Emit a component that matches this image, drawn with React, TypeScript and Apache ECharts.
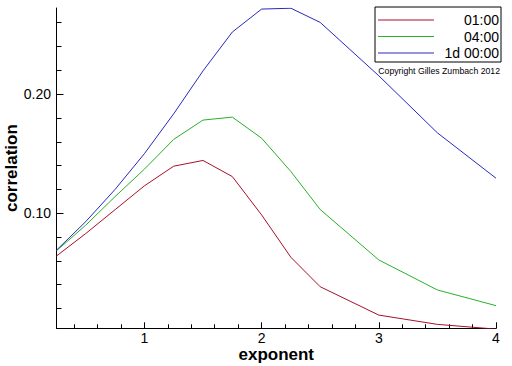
import React, { useEffect, useRef } from "react";
import * as echarts from "echarts";

const exponents = [0.25, 0.5, 0.75, 1.0, 1.25, 1.5, 1.75, 2.0, 2.25, 2.5, 3.0, 3.5, 4.0];
const seriesNames = ["01:00", "04:00", "1d 00:00"];
const red0100 = [0.0641, 0.083, 0.103, 0.123, 0.1395, 0.1443, 0.1308, 0.0986, 0.063, 0.0383, 0.0145, 0.0067, 0.0027];
const green0400 = [0.0685, 0.09, 0.114, 0.137, 0.162, 0.1782, 0.1807, 0.163, 0.135, 0.1031, 0.0608, 0.0356, 0.0224];
const blue1d = [0.069, 0.093, 0.120, 0.150, 0.1835, 0.2195, 0.2521, 0.2714, 0.2721, 0.2602, 0.2154, 0.1675, 0.1294];
const yMinorTicks = [0.02, 0.04, 0.06, 0.08, 0.1, 0.12, 0.14, 0.16, 0.18, 0.2, 0.22, 0.24, 0.26];
const yLabels = [0.1, 0.2];
const xMinorTicks = [0.4, 0.6, 0.8, 1.0, 1.2, 1.4, 1.6, 1.8, 2.0, 2.2, 2.4, 2.6, 2.8, 3.0, 3.2, 3.4, 3.6, 3.8, 4.0];
const xLabels = [1, 2, 3, 4];
const colors = ["#a8102a", "#28b028", "#2828c0"];
const copyright = "Copyright Gilles Zumbach 2012";

const FONT = "'Liberation Sans', Arial, sans-serif";

export default function App() {
  const ref = useRef<HTMLDivElement>(null);
  useEffect(() => {
    if (!ref.current) return;
    const chart = echarts.init(ref.current, undefined, { renderer: "svg" });
    const X_MIN = 0.25, X_MAX = 4.0, Y_MIN = 0.0034, Y_MAX = 0.2723;
    const allData = [red0100, green0400, blue1d];
    chart.setOption({
      animation: false,
      backgroundColor: "#ffffff",
      grid: {
        left: 56.5,
        top: 8,
        width: 439.5,
        height: 320.3,
        containLabel: false,
        outerBoundsMode: "none",
      },
      legend: {
        left: 375,
        top: 7,
        orient: "vertical",
        data: seriesNames,
        borderColor: "#000",
        borderWidth: 1,
        borderRadius: 0,
        padding: [6, 2, 2, 2.5],
        itemGap: 2.5,
        itemWidth: 56,
        itemHeight: 13,
        selectedMode: false,
        itemStyle: { opacity: 0 },
        lineStyle: { width: 1 },
        textStyle: {
          fontFamily: FONT,
          fontSize: 14,
          color: "#000",
          lineHeight: 13,
          rich: {
            a: { fontFamily: FONT, fontSize: 14, color: "#000", width: 60, align: "right", lineHeight: 13 },
          },
        },
        formatter: (n: string) => `{a|${n}}`,
      },
      graphic: [
        {
          type: "text",
          right: 12,
          top: 66,
          style: {
            text: copyright,
            fontFamily: FONT,
            fontSize: 8.7,
            fill: "#000",
          },
        },
      ],
      xAxis: [
        {
          type: "value",
          min: X_MIN,
          max: X_MAX,
          name: "exponent",
          nameLocation: "middle",
          nameGap: 18,
          nameMoveOverlap: false,
          nameTextStyle: { fontFamily: FONT, fontSize: 17, fontWeight: "bold", color: "#000" },
          axisLine: { show: true, lineStyle: { color: "#000", width: 1 } },
          axisTick: { show: true, inside: true, length: 4, customValues: xMinorTicks, lineStyle: { color: "#000" } },
          axisLabel: {
            show: true,
            customValues: xLabels,
            margin: 3,
            fontFamily: FONT,
            fontSize: 14,
            color: "#000",
            formatter: (v: number) => String(v),
          },
          splitLine: { show: false },
        },
        {
          type: "value",
          min: X_MIN,
          max: X_MAX,
          position: "bottom",
          axisLine: { show: false },
          axisTick: { show: true, inside: true, length: 6, customValues: xLabels, lineStyle: { color: "#000" } },
          axisLabel: { show: false },
          splitLine: { show: false },
        },
      ],
      yAxis: [
        {
          type: "value",
          min: Y_MIN,
          max: Y_MAX,
          name: "correlation",
          nameLocation: "middle",
          nameGap: 37,
          nameMoveOverlap: false,
          nameTextStyle: { fontFamily: FONT, fontSize: 17, fontWeight: "bold", color: "#000" },
          axisLine: { show: true, lineStyle: { color: "#000", width: 1 } },
          axisTick: { show: true, inside: true, length: 5, customValues: yMinorTicks, lineStyle: { color: "#000" } },
          axisLabel: {
            show: true,
            customValues: yLabels,
            margin: 5.5,
            fontFamily: FONT,
            fontSize: 14,
            color: "#000",
            formatter: (v: number) => v.toFixed(2),
          },
          splitLine: { show: false },
        },
        {
          type: "value",
          min: Y_MIN,
          max: Y_MAX,
          position: "left",
          axisLine: { show: false },
          axisTick: { show: true, inside: true, length: 7, customValues: yLabels, lineStyle: { color: "#000" } },
          axisLabel: { show: false },
          splitLine: { show: false },
        },
      ],
      series: seriesNames.map((name, i) => ({
        name,
        type: "line",
        xAxisIndex: 0,
        yAxisIndex: 0,
        symbol: "none",
        showSymbol: false,
        clip: true,
        color: colors[i],
        lineStyle: { color: colors[i], width: 1 },
        data: exponents.map((x, j) => [x, allData[i][j]]),
      })),
    });
    return () => chart.dispose();
  }, []);
  return (
    <div
      ref={ref}
      style={{ position: "fixed", left: 0, top: 0, width: 512, height: 366 }}
    />
  );
}
